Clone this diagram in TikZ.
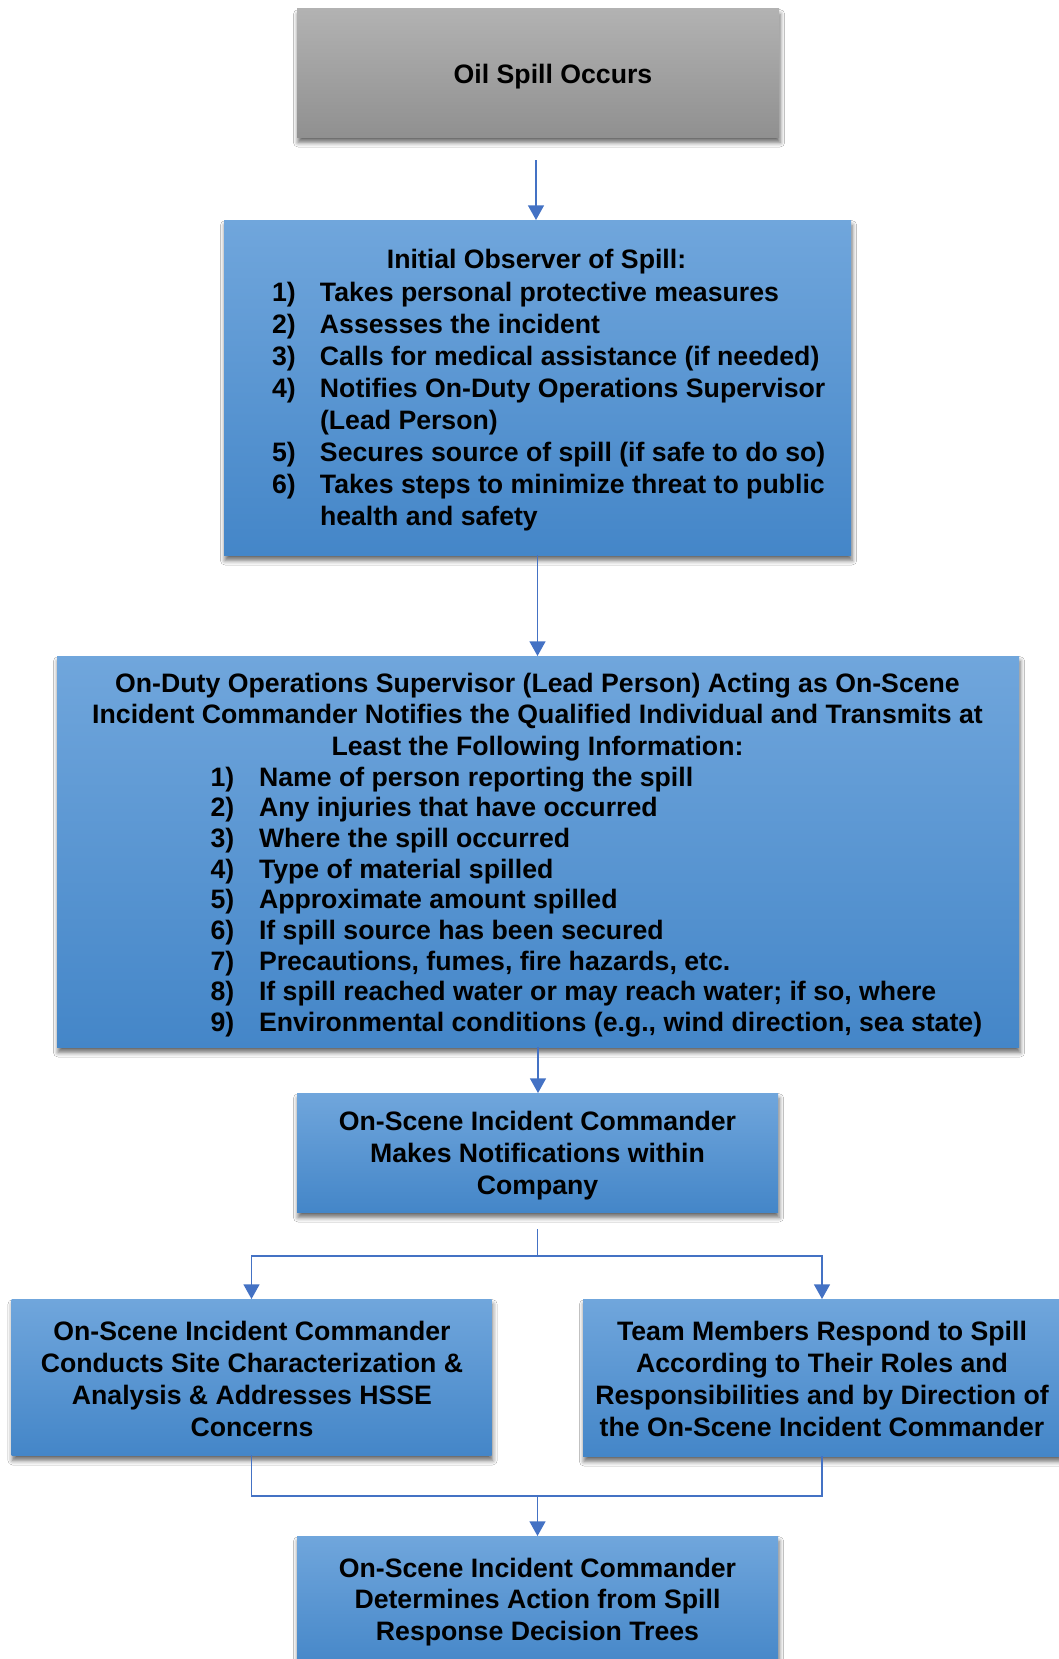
\documentclass[tikz,border=0pt]{standalone}
\usepackage{fontspec}
\setmainfont{Liberation Sans}
\usepackage{graphicx}
\usetikzlibrary{arrows.meta,shadows.blur}
\definecolor{bluetop}{HTML}{70A6DC}
\definecolor{bluebot}{HTML}{4486C8}
\definecolor{graytop}{HTML}{B2B2B2}
\definecolor{graybot}{HTML}{909090}
\definecolor{linec}{HTML}{4472C4}
\newcommand{\fs}[1]{\fontsize{20pt}{#1}\selectfont}
\begin{document}
\begin{tikzpicture}[x=0.75pt,y=-0.75pt,
  boxbase/.style={draw=none, inner sep=0pt, outer sep=0pt,
    blur shadow={shadow xshift=0.8pt, shadow yshift=-4pt, shadow blur radius=3.5pt, shadow opacity=60}},
  bluebox/.style={boxbase, top color=bluetop, bottom color=bluebot},
  graybox/.style={boxbase, top color=graytop, bottom color=graybot},
  txt/.style={inner sep=0pt, outer sep=0pt, font=\bfseries, text=black},
  conn/.style={draw=linec, line width=1pt},
  arr/.style={conn, -{Triangle[width=12pt,length=11pt]}}]
\useasboundingbox (0,0) rectangle (1059,1659);
\clip (0,0) rectangle (1059,1659);
\fill[white] (0,0) rectangle (1059,1659);
% boxes
\node[graybox, minimum width=361.5pt, minimum height=96pt] (b1) at (538,73) {};
\node[bluebox, minimum width=470.25pt, minimum height=251.25pt] (b2) at (537.5,387.5) {};
\node[bluebox, minimum width=721.5pt, minimum height=293.25pt] (b3) at (538,851.5) {};
\node[bluebox, minimum width=360.75pt, minimum height=89.25pt] (b4) at (537.5,1152.5) {};
\node[bluebox, minimum width=360pt, minimum height=117pt] (b5) at (251.5,1377) {};
\node[bluebox, minimum width=358.5pt, minimum height=117.75pt] (b6) at (822,1377.5) {};
\node[bluebox, minimum width=360.75pt, minimum height=100.5pt] (b7) at (537.5,1603) {};
% texts
\node[txt, anchor=base] (t1) at (553,83.5) {\fs{24pt}Oil Spill Occurs};
\node[txt, anchor=base] (t2a) at (536.5,268.5) {\fs{24pt}Initial Observer of Spill:};
\node[txt, anchor=base west] (t2b) at (272,301.5) {\fs{24.03pt}\begin{tabular}[t]{@{}p{36pt}@{}l@{}}
1) & Takes personal protective measures\\
2) & Assesses the incident\\
3) & Calls for medical assistance (if needed)\\
4) & Notifies On-Duty Operations Supervisor\\
   & (Lead Person)\\
5) & Secures source of spill (if safe to do so)\\
6) & Takes steps to minimize threat to public\\
   & health and safety
\end{tabular}};
\node[txt, anchor=base] (t3a) at (537.5,692) {\fs{23.8pt}\begin{tabular}[t]{@{}c@{}}
On-Duty Operations Supervisor (Lead Person) Acting as On-Scene\\
Incident Commander Notifies the Qualified Individual and Transmits at\\
Least the Following Information:
\end{tabular}};
\node[txt, anchor=base west] (t3b) at (210.5,786) {\fs{23pt}\begin{tabular}[t]{@{}p{36.4pt}@{}l@{}}
1) & Name of person reporting the spill\\
2) & Any injuries that have occurred\\
3) & Where the spill occurred\\
4) & Type of material spilled\\
5) & Approximate amount spilled\\
6) & If spill source has been secured\\
7) & Precautions, fumes, fire hazards, etc.\\
8) & If spill reached water or may reach water; if so, where\\
9) & Environmental conditions (e.g., wind direction, sea state)
\end{tabular}};
\node[txt, anchor=base] (t4) at (537.5,1130) {\fs{24.2pt}\begin{tabular}[t]{@{}c@{}}
On-Scene Incident Commander\\
Makes Notifications within\\
Company
\end{tabular}};
\node[txt, anchor=base] (t5) at (252,1340.5) {\fs{24.1pt}\begin{tabular}[t]{@{}c@{}}
On-Scene Incident Commander\\
Conducts Site Characterization \&\\
Analysis \& Addresses HSSE\\
Concerns
\end{tabular}};
\node[txt, anchor=base] (t6) at (822,1340.5) {\fs{24.1pt}\begin{tabular}[t]{@{}c@{}}
Team Members Respond to Spill\\
According to Their Roles and\\
Responsibilities and by Direction of\\
the On-Scene Incident Commander
\end{tabular}};
\node[txt, anchor=base] (t7) at (537.5,1577.5) {\fs{23.6pt}\begin{tabular}[t]{@{}c@{}}
On-Scene Incident Commander\\
Determines Action from Spill\\
Response Decision Trees
\end{tabular}};
% connectors
\coordinate (a1) at (536,160);
\draw[arr] (a1) -- (a1 |- b2.north);
\draw[arr] (b2.south) -- (b2.south |- b3.north);
\draw[arr] (b3.south) -- (b3.south |- b4.north);
\coordinate (s1) at (537.5,1229);
\coordinate (s2) at (537.5,1256);
\draw[conn] (s1) -- (s2);
\draw[arr] (s2) -| (b5.north);
\draw[arr] (s2) -| (b6.north);
\coordinate (m) at (537.5,1496);
\draw[conn] (b5.south) |- (m);
\draw[conn] (b6.south) |- (m);
\draw[arr] (m) -- (m |- b7.north);
\end{tikzpicture}
\end{document}
